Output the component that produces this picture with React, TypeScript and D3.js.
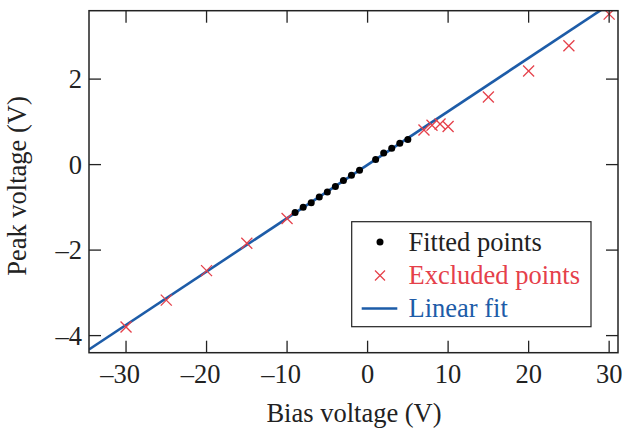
import React from 'react'
import * as d3 from 'd3'

// data
const fittedX = [-9, -8, -7, -6, -5, -4, -3, -2, -1, 1, 2, 3, 4, 5]
const fittedY = [-1.12, -1.0, -0.89, -0.76, -0.64, -0.51, -0.37, -0.25, -0.13, 0.12, 0.27, 0.38, 0.5, 0.59]
const excludedX = [-30, -25, -20, -15, -10, 7, 8, 9, 10, 15, 20, 25, 30]
const excludedY = [-3.8, -3.17, -2.48, -1.84, -1.26, 0.81, 0.92, 0.95, 0.89, 1.58, 2.19, 2.78, 3.52]
const xTicks = [-30, -20, -10, 0, 10, 20, 30]
const yTicks = [-4, -2, 0, 2]
const legendLabels = ['Fitted points', 'Excluded points', 'Linear fit']

const W = 622
const H = 430
const left = 89
const right = 618
const top = 10.7
const bottom = 352.7

const RED = '#e5404a'
const BLUE = '#1d5ca8'
const FONT = '"Liberation Serif", "DejaVu Serif", serif'
const FS = 26.5

// least squares fit of the fitted points
function linearFit(xs: number[], ys: number[]) {
  const mx = d3.mean(xs) as number
  const my = d3.mean(ys) as number
  let sxy = 0
  let sxx = 0
  xs.forEach((x, i) => {
    sxy += (x - mx) * (ys[i] - my)
    sxx += (x - mx) * (x - mx)
  })
  const slope = sxy / sxx
  return { slope, intercept: my - slope * mx }
}

const fmt = (v: number) => (v < 0 ? '\u2013' + Math.abs(v) : String(v))

export default function App() {
  const x = d3.scaleLinear().domain([-34.6, 31.1]).range([left, right])
  const y = d3.scaleLinear().domain([-4.4, 3.6]).range([bottom, top])
  const fit = linearFit(fittedX, fittedY)
  const [x0, x1] = x.domain()
  const fitLine = d3
    .line<number>()
    .x((d) => x(d))
    .y((d) => y(fit.slope * d + fit.intercept))([x0, x1])

  const tick = 12
  const cross = 5.5

  const lg = { x: 351.7, y: 221.7, w: 239.3, h: 105 }
  const rowY = [242, 275.5, 308.5]

  return (
    <svg width={W} height={H} style={{ position: 'absolute', left: 0, top: 0, background: '#fff', fontFamily: FONT }}>
      <defs>
        <clipPath id="plot">
          <rect x={left} y={top} width={right - left} height={bottom - top} />
        </clipPath>
      </defs>

      {/* fit line */}
      <path d={fitLine || ''} fill="none" stroke={BLUE} strokeWidth={2.6} clipPath="url(#plot)" />

      {/* excluded points */}
      <g stroke={RED} strokeWidth={1.3} clipPath="url(#plot)">
        {excludedX.map((d, i) => {
          const cx = x(d)
          const cy = y(excludedY[i])
          return (
            <g key={i}>
              <line x1={cx - cross} y1={cy - cross} x2={cx + cross} y2={cy + cross} />
              <line x1={cx - cross} y1={cy + cross} x2={cx + cross} y2={cy - cross} />
            </g>
          )
        })}
      </g>

      {/* fitted points */}
      <g fill="#000">
        {fittedX.map((d, i) => (
          <circle key={i} cx={x(d)} cy={y(fittedY[i])} r={3.5} />
        ))}
      </g>

      {/* frame and ticks */}
      <rect x={left} y={top} width={right - left} height={bottom - top} fill="none" stroke="#222" strokeWidth={1.5} />
      <g stroke="#222" strokeWidth={1.3}>
        {xTicks.map((t) => (
          <g key={t}>
            <line x1={x(t)} x2={x(t)} y1={bottom} y2={bottom - tick} />
            <line x1={x(t)} x2={x(t)} y1={top} y2={top + tick} />
          </g>
        ))}
        {yTicks.map((t) => (
          <g key={t}>
            <line x1={left} x2={left + tick} y1={y(t)} y2={y(t)} />
            <line x1={right} x2={right - tick} y1={y(t)} y2={y(t)} />
          </g>
        ))}
      </g>

      {/* tick labels */}
      <g fontSize={FS} fill="#222">
        {xTicks.map((t) => (
          <text key={t} x={x(t) - (t < 0 ? 6 : 0)} y={382.5} textAnchor="middle">
            {fmt(t)}
          </text>
        ))}
        {yTicks.map((t) => (
          <text key={t} x={82} y={y(t)} dy="0.35em" textAnchor="end">
            {fmt(t)}
          </text>
        ))}
      </g>

      {/* axis titles */}
      <text x={354} y={421.5} textAnchor="middle" fontSize={FS} fill="#222">
        Bias voltage (V)
      </text>
      <text transform="translate(26,186) rotate(-90)" textAnchor="middle" fontSize={FS} fill="#222">
        Peak voltage (V)
      </text>

      {/* legend */}
      <rect x={lg.x} y={lg.y} width={lg.w} height={lg.h} fill="#fff" stroke="#222" strokeWidth={1.2} />
      <circle cx={380} cy={rowY[0]} r={3.5} fill="#000" />
      <g stroke={RED} strokeWidth={1.2}>
        <line x1={380 - 5} y1={rowY[1] - 5} x2={380 + 5} y2={rowY[1] + 5} />
        <line x1={380 - 5} y1={rowY[1] + 5} x2={380 + 5} y2={rowY[1] - 5} />
      </g>
      <line x1={361.7} x2={397.3} y1={rowY[2]} y2={rowY[2]} stroke={BLUE} strokeWidth={2.6} />
      {legendLabels.map((l, i) => (
        <text key={l} x={408.5} y={rowY[i]} dy="0.33em" fontSize={FS} fill={i === 0 ? '#222' : i === 1 ? RED : BLUE}>
          {l}
        </text>
      ))}
    </svg>
  )
}
